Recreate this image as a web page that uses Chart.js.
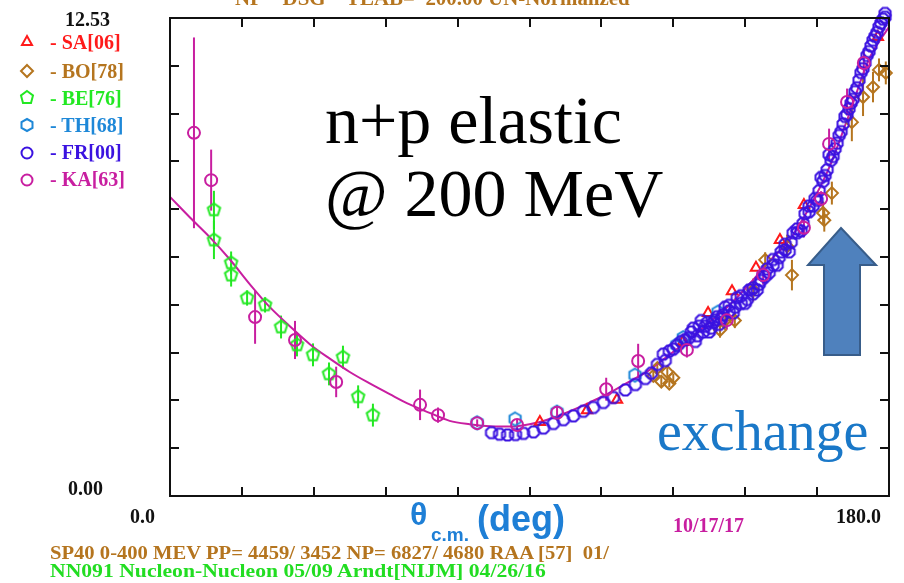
<!DOCTYPE html>
<html lang="en">
<head>
<meta charset="UTF-8">
<title>n+p elastic @ 200 MeV</title>
<script src="https://cdn.jsdelivr.net/npm/chart.js"></script>
<style>
  body { margin: 0; background: #fff; }
  #wrap { position: relative; width: 904px; height: 583px; overflow: hidden; }
  #wrap canvas { position: absolute; left: 0; top: 0; }
  .t { position: absolute; white-space: pre; font-family: "Liberation Serif", serif; font-weight: bold; line-height: 1; transform-origin: left top; }
  .leg { font-size: 20px; left: 50px; }
  .big { font-family: "Liberation Serif", serif; font-weight: normal; font-size: 68px; color: #000; }
  .sans { font-family: "Liberation Sans", sans-serif; color: #1e7fd6; }
</style>
</head>
<body>
<div id="wrap">
  <canvas id="np" width="904" height="583"></canvas>

  <!-- header, partly off the top -->
  <div class="t" style="left:235px; top:-12px; font-size:20px; color:#b5751f; transform:scaleX(1.045);">NP    DSG    TLAB=  200.00 UN-Normalized</div>

  <!-- axis end labels -->
  <div class="t" style="left:65px; top:9px; font-size:20px; color:#111;">12.53</div>
  <div class="t" style="left:68px; top:478px; font-size:20px; color:#111;">0.00</div>
  <div class="t" style="left:130px; top:506px; font-size:20px; color:#111;">0.0</div>
  <div class="t" style="left:836px; top:506px; font-size:20px; color:#111;">180.0</div>

  <!-- legend -->
  <svg style="position:absolute; left:17px; top:32px;" width="20" height="160">
    <polygon points="10,4 15,13 5,13" fill="none" stroke="#ff1a1a" stroke-width="2"/>
    <polygon points="10,33 16,39 10,45 4,39" fill="none" stroke="#b5751f" stroke-width="2"/>
    <polygon points="10,59 16,63.5 14,71 6,71 4,63.5" fill="none" stroke="#22e822" stroke-width="2"/>
    <polygon points="10,87 15.5,90 15.5,96 10,99 4.5,96 4.5,90" fill="none" stroke="#1e88d8" stroke-width="2"/>
    <circle cx="10" cy="121" r="5.5" fill="none" stroke="#3a12e0" stroke-width="2"/>
    <circle cx="10" cy="148" r="5.5" fill="none" stroke="#c81ea0" stroke-width="2"/>
  </svg>
  <div class="t leg" style="top:32px; color:#ff1a1a;">- SA[06]</div>
  <div class="t leg" style="top:61px; color:#b5751f;">- BO[78]</div>
  <div class="t leg" style="top:88px; color:#22e822;">- BE[76]</div>
  <div class="t leg" style="top:115px; color:#1e88d8;">- TH[68]</div>
  <div class="t leg" style="top:142px; color:#3a12e0;">- FR[00]</div>
  <div class="t leg" style="top:169px; color:#c81ea0;">- KA[63]</div>

  <!-- annotations -->
  <div class="t big" style="left:325px; top:86px;">n+p elastic</div>
  <div class="t big" style="left:325px; top:159px;">@ 200 MeV</div>
  <div class="t" style="left:657px; top:403px; font-weight:normal; font-size:56px; color:#1a78c8;">exchange</div>
  <svg style="position:absolute; left:805px; top:225px;" width="75" height="135">
    <polygon points="36,3 71,40 55,40 55,130 19,130 19,40 3,40" fill="#4f81bd" stroke="#385d8a" stroke-width="2"/>
  </svg>

  <!-- x axis title -->
  <div class="t sans" style="left:410px; top:498px; font-size:32px;">θ</div>
  <div class="t sans" style="left:431px; top:525px; font-size:19px;">c.m.</div>
  <div class="t sans" style="left:477px; top:501px; font-size:36px;">(deg)</div>
  <div class="t" style="left:673px; top:515px; font-size:20px; color:#c81ea0;">10/17/17</div>

  <!-- footer -->
  <div class="t" style="left:50px; top:543px; font-size:19px; color:#b5751f; transform:scaleX(1.085);">SP40 0-400 MEV PP= 4459/ 3452 NP= 6827/ 4680 RAA [57]  01/</div>
  <div class="t" style="left:50px; top:561px; font-size:19px; color:#22dd22; transform:scaleX(1.14);">NN091 Nucleon-Nucleon 05/09 Arndt[NIJM] 04/26/16</div>
</div>

<script>
    // axis ticks (inward marks only)
    const xTickValues = [0, 18, 36, 54, 72, 90, 108, 126, 144, 162, 180];
    const yTickValues = [0, 1.253, 2.506, 3.759, 5.012, 6.265, 7.518, 8.771, 10.024, 11.277, 12.53];

    // phase shift solution curve
    const curveTheta = [0, 5, 10, 15, 20, 25, 30, 35, 40, 45, 50, 55, 60, 65, 70, 75, 80, 85, 90, 95, 100, 105, 110, 115, 120, 125, 130, 135, 140, 145, 150, 155, 160, 165, 170, 175, 180];
    const curveValue = [7.84, 7.30, 6.78, 6.20, 5.55, 4.95, 4.45, 3.98, 3.60, 3.25, 2.95, 2.67, 2.40, 2.18, 1.97, 1.88, 1.83, 1.82, 1.88, 2.02, 2.22, 2.45, 2.70, 3.00, 3.30, 3.70, 4.10, 4.55, 5.00, 5.55, 6.15, 6.70, 7.55, 8.60, 10.00, 11.45, 12.30];

    // SA[06]
    const saTheta = [92.6, 104.4, 111.9, 128.4, 134.7, 140.7, 146.7, 152.7, 158.7, 177.2];
    const saValue = [1.94, 2.25, 2.52, 4.04, 4.80, 5.37, 5.98, 6.71, 7.63, 12.03];

    // BO[78]
    const boTheta = [121, 122, 123, 124.5, 125, 126, 137.7, 139, 141.4, 146, 149, 154.5, 155.7, 163.5, 163.8, 165.7, 170.7, 173.5, 176, 177.5, 179.2];
    const boValue = [3.15, 3.35, 3.00, 3.25, 2.95, 3.10, 4.35, 4.60, 4.60, 5.40, 6.19, 6.55, 5.79, 7.42, 7.23, 7.94, 9.80, 10.46, 10.72, 11.17, 11.09];
    const boError = [0.12, 0.12, 0.12, 0.12, 0.1, 0.1, 0.2, 0.2, 0.2, 0.3, 0.2, 0.3, 0.4, 0.3, 0.3, 0.3, 0.5, 0.5, 0.4, 0.3, 0.3];

    // BE[76]
    const beTheta = [11.0, 11.0, 15.3, 15.3, 19.3, 23.8, 27.8, 31.8, 35.8, 39.8, 43.3, 47.1, 50.8];
    const beValue = [7.50, 6.71, 6.11, 5.79, 5.19, 5.01, 4.43, 3.96, 3.70, 3.20, 3.64, 2.60, 2.12];
    const beError = [0.5, 0.5, 0.3, 0.3, 0.2, 0.2, 0.3, 0.3, 0.3, 0.3, 0.3, 0.3, 0.3];

    // TH[68]
    const thTheta = [76.9, 86.4, 96.9, 116.4, 126.9, 128.5, 137.2];
    const thValue = [1.92, 2.02, 2.20, 3.17, 3.96, 4.15, 4.82];

    // FR[00]
    const frTheta = [80.5, 82.5, 84.5, 86.5, 88.5, 91, 93.5, 96, 98.5, 101, 103.5, 106, 108.5, 111, 114, 116.5, 119, 120.5, 122, 123.5,
                     125, 127, 129, 130.5, 131.5, 132.5, 133.5, 134.5, 135.5, 136.5, 137.5, 138.5, 140, 141.5, 143, 144.5, 146, 147.5, 148.5, 149.5,
                     151, 152.5, 154, 155.5, 157, 158.5, 160, 161.5, 162.5, 163.5, 164.5, 165.5, 166.5, 167.5, 168.5, 169.5, 170.5, 171.5, 172.5, 173.5,
                     174.5, 175.5, 176.5, 177.5, 178.5, 179.5, 133, 135, 137, 139, 142, 145, 150, 153, 156, 159, 161, 163, 165, 167,
                     169, 171, 173, 175, 177, 179, 180, 124, 126, 128, 130, 131, 132, 134, 136, 138, 140, 141, 143, 144, 146,
                     147, 148, 149, 151, 152, 154, 155, 157, 158, 160, 162, 164, 166, 168, 170, 172, 174, 176, 178, 179];
    const frValue = [1.66, 1.62, 1.60, 1.61, 1.64, 1.68, 1.78, 1.90, 2.00, 2.10, 2.22, 2.32, 2.45, 2.58, 2.78, 2.92, 3.08, 3.22, 3.45, 3.72,
                     3.80, 3.95, 4.10, 4.30, 4.05, 4.45, 4.30, 4.55, 4.40, 4.62, 4.50, 4.75, 4.85, 4.95, 5.05, 5.15, 5.30, 5.55, 5.80, 5.95,
                     6.05, 6.25, 6.45, 6.65, 6.90, 7.15, 7.45, 7.80, 8.00, 8.25, 8.55, 8.80, 9.10, 9.45, 9.75, 10.00, 10.30, 10.60, 10.90, 11.20,
                     11.55, 11.80, 12.05, 12.30, 12.50, 12.75, 4.60, 4.30, 4.70, 4.95, 5.20, 5.40, 5.85, 6.40, 6.90, 7.40, 7.60, 8.35, 8.95, 9.25,
                     9.95, 10.40, 11.10, 11.65, 12.15, 12.55, 12.80, 3.55, 3.85, 4.05, 4.15, 4.40, 4.20, 4.45, 4.55, 4.65, 5.00, 4.80, 5.25, 5.05, 5.45,
                     5.40, 5.65, 5.75, 6.20, 6.05, 6.60, 6.40, 7.00, 6.95, 7.60, 7.75, 8.40, 8.90, 9.55, 10.15, 10.70, 11.35, 11.95, 12.40, 12.65];

    // KA[63]
    const kaTheta = [6.0, 10.3, 21.3, 31.3, 41.6, 62.6, 67.1, 76.9, 86.9, 96.9, 109.2, 117.2, 129.4, 139.4, 148.5, 158.7, 163.0, 165.0, 169.5, 173.7];
    const kaValue = [9.52, 8.28, 4.69, 4.09, 2.99, 2.39, 2.12, 1.91, 1.86, 2.18, 2.80, 3.54, 3.83, 4.61, 5.79, 7.03, 7.79, 9.23, 10.33, 11.35];
    const kaError = [2.5, 0.8, 0.7, 0.5, 0.4, 0.4, 0.2, 0.1, 0.15, 0.2, 0.3, 0.45, 0.2, 0.25, 0.25, 0.25, 0.2, 0.4, 0.35, 0.3];

    const pts = (xs, ys) => xs.map((x, i) => ({x: x, y: ys[i]}));

    // outline polygon markers for the shapes Chart.js doesn't have
    function polyMarker(sides, r, color, rot) {
        const c = document.createElement('canvas');
        const s = Math.ceil(2 * r + 4);
        c.width = s; c.height = s;
        const g = c.getContext('2d');
        g.strokeStyle = color;
        g.lineWidth = 2;
        g.beginPath();
        for (let i = 0; i < sides; i++) {
            const a = rot + i * 2 * Math.PI / sides;
            const px = s / 2 + r * Math.cos(a), py = s / 2 + r * Math.sin(a);
            if (i) g.lineTo(px, py); else g.moveTo(px, py);
        }
        g.closePath();
        g.stroke();
        return c;
    }

    // vertical error bars, drawn under the markers
    const errorBars = {
        id: 'errorBars',
        beforeDatasetsDraw(chart) {
            const {ctx, scales: {x, y}} = chart;
            chart.data.datasets.forEach(ds => {
                if (!ds.errors) return;
                ctx.save();
                ctx.strokeStyle = ds.borderColor;
                ctx.lineWidth = 2;
                ds.data.forEach((p, j) => {
                    const e = ds.errors[j];
                    if (!e) return;
                    const px = x.getPixelForValue(p.x);
                    ctx.beginPath();
                    ctx.moveTo(px, y.getPixelForValue(p.y - e));
                    ctx.lineTo(px, y.getPixelForValue(p.y + e));
                    ctx.stroke();
                });
                ctx.restore();
            });
        }
    };

    // box frame with inward tick marks on all four sides
    const frame = {
        id: 'frame',
        afterDraw(chart) {
            const {ctx, chartArea: a, scales: {x, y}} = chart;
            const tl = 9;
            ctx.save();
            ctx.strokeStyle = '#111';
            ctx.lineWidth = 2;
            ctx.strokeRect(a.left, a.top, a.right - a.left, a.bottom - a.top);
            ctx.beginPath();
            xTickValues.slice(1, -1).forEach(v => {
                const px = Math.round(x.getPixelForValue(v));
                ctx.moveTo(px, a.bottom); ctx.lineTo(px, a.bottom - tl);
                ctx.moveTo(px, a.top); ctx.lineTo(px, a.top + tl);
            });
            yTickValues.slice(1, -1).forEach(v => {
                const py = Math.round(y.getPixelForValue(v));
                ctx.moveTo(a.left, py); ctx.lineTo(a.left + tl, py);
                ctx.moveTo(a.right, py); ctx.lineTo(a.right - tl, py);
            });
            ctx.stroke();
            ctx.restore();
        }
    };

    new Chart(document.getElementById('np'), {
        type: 'scatter',
        data: {
            datasets: [
                {label: 'KA[63]', data: pts(kaTheta, kaValue), errors: kaError, order: 1, clip: false,
                 pointStyle: 'circle', pointRadius: 6, borderColor: '#c81ea0', backgroundColor: 'transparent', borderWidth: 2},
                {label: 'FR[00]', data: pts(frTheta, frValue), order: 2, clip: false,
                 pointStyle: polyMarker(8, 6, '#3a12e0', Math.PI / 8), pointRadius: 6, borderColor: '#3a12e0', backgroundColor: 'transparent'},
                {label: 'TH[68]', data: pts(thTheta, thValue), order: 3, clip: false,
                 pointStyle: polyMarker(6, 6.5, '#1e88d8', -Math.PI / 2), pointRadius: 6, borderColor: '#1e88d8', backgroundColor: 'transparent'},
                {label: 'SA[06]', data: pts(saTheta, saValue), order: 4, clip: false,
                 pointStyle: 'triangle', pointRadius: 6, borderColor: '#ff1a1a', backgroundColor: 'transparent', borderWidth: 2},
                {label: 'BE[76]', data: pts(beTheta, beValue), errors: beError, order: 5, clip: false,
                 pointStyle: polyMarker(5, 6.5, '#22e822', -Math.PI / 2), pointRadius: 6, borderColor: '#22e822', backgroundColor: 'transparent'},
                {label: 'BO[78]', data: pts(boTheta, boValue), errors: boError, order: 6, clip: false,
                 pointStyle: 'rectRot', pointRadius: 6, borderColor: '#b5751f', backgroundColor: 'transparent', borderWidth: 2},
                {label: 'curve', type: 'line', data: pts(curveTheta, curveValue), order: 10,
                 showLine: true, pointRadius: 0, borderColor: '#c81ea0', borderWidth: 2, cubicInterpolationMode: 'monotone', fill: false}
            ]
        },
        options: {
            responsive: false,
            animation: false,
            events: [],
            layout: {padding: {left: 170, right: 15, top: 18, bottom: 87}},
            scales: {
                x: {type: 'linear', min: 0, max: 180, display: false},
                y: {type: 'linear', min: 0, max: 12.53, display: false}
            },
            plugins: {legend: {display: false}, tooltip: {enabled: false}}
        },
        plugins: [errorBars, frame]
    });
</script>
</body>
</html>
